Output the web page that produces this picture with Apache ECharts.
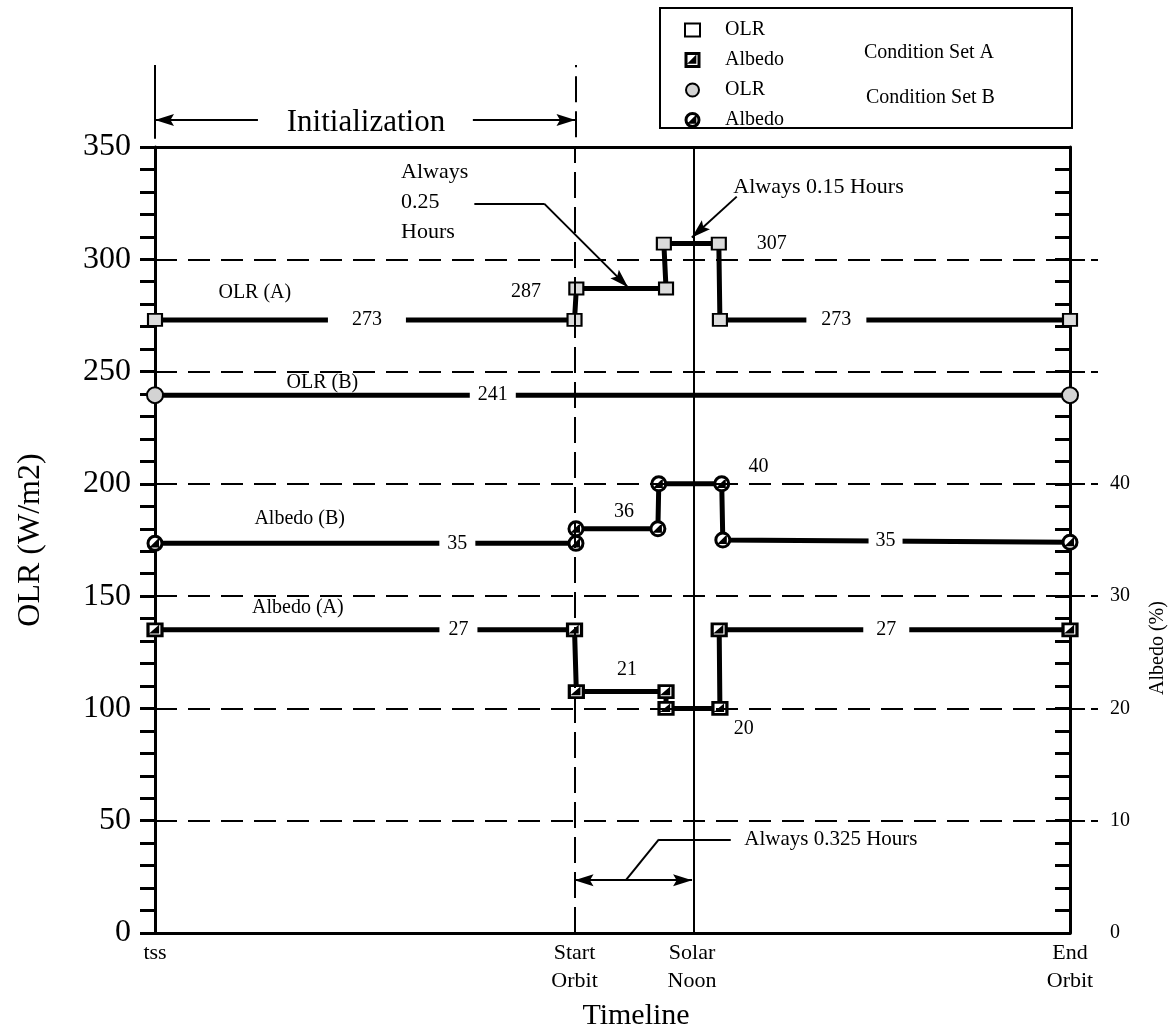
<!DOCTYPE html>
<html>
<head>
<meta charset="utf-8">
<script src="https://cdn.jsdelivr.net/npm/echarts@6/dist/echarts.min.js"></script>
<style>html,body{margin:0;padding:0;background:#fff}#c{width:1176px;height:1036px}</style>
</head>
<body>
<div id="c"></div>
<script>
// ---------------- DATA ----------------
// Timeline (hours relative to Start Orbit)
const timelinePos = [-1.16, 0, 0.325, 1.37];
const timelineLabels = ['tss', 'Start\nOrbit', 'Solar\nNoon', 'End\nOrbit'];

// OLR (W/m2), condition set A
const olrA_x = [-1.16, 0, 0.005, 0.253, 0.247, 0.399, 0.402, 1.37];
const olrA_y = [273, 273, 287, 287, 307, 307, 273, 273];
// OLR (W/m2), condition set B
const olrB_x = [-1.16, 1.37];
const olrB_y = [239.5, 239.5];
// Albedo (%), condition set A
const albA_x = [-1.16, 0, 0.005, 0.253, 0.253, 0.402, 0.400, 1.37];
const albA_y = [27, 27, 21.5, 21.5, 20, 20, 27, 27];
// Albedo (%), condition set B
const albB_x = [-1.16, 0.004, 0.004, 0.2305, 0.233, 0.407, 0.41, 1.37];
const albB_y = [34.7, 34.7, 36, 36, 40, 40, 35, 34.8];

// Axis ticks
const olrGridValues = [50, 100, 150, 200, 250, 300];

// Value annotations (x in hours, y in OLR units)
const noteText = ['OLR (A)', '273', '287', '307', '273', 'OLR (B)', '241', 'Albedo (B)', '35', '36', '40', '35', 'Albedo (A)', '27', '21', '27', '20'];
const noteX = [-0.884, -0.574, -0.134, 0.545, 0.724, -0.697, -0.226, -0.76, -0.324, 0.137, 0.509, 0.86, -0.765, -0.321, 0.145, 0.862, 0.468];
const noteY = [285.3, 273, 285.5, 307, 273, 245, 239.5, 184.3, 173.5, 187.4, 207.8, 174.5, 144.9, 135, 117.4, 135, 90.8];

// Callout texts (left-aligned)
const calloutText = ['Always\n0.25\nHours', 'Always 0.15 Hours', 'Always 0.325 Hours'];
const calloutX = [-0.481, 0.4375, 0.468];
const calloutY = [325.2, 332.3, 41.65];

// Callout leader segments [x1, y1, x2, y2, startArrow, endArrow]
const calloutSegs = [
  [-0.277, 324.8, -0.084, 324.8, 0, 0],
  [-0.084, 324.8, 0.148, 287.5, 0, 1],
  [0.4485, 327.9, 0.3244, 309.7, 0, 1],
  [0.432, 41.65, 0.2333, 41.65, 0, 0],
  [0.2333, 41.65, 0.142, 23.5, 0, 0],
  [0, 23.5, 0.325, 23.5, 1, 1]
];
// Initialization bracket (upper strip, y 0..1) [x1, y1, x2, y2, startArrow, endArrow, dashed]
const initSegs = [
  [-1.16, 0.1, -1.16, 1, 0, 0, 0],
  [0, 0.12, 0, 1, 0, 0, 1],
  [-0.876, 0.329, -1.16, 0.329, 0, 1, 0],
  [-0.283, 0.329, 0, 0.329, 0, 1, 0]
];
const initText = 'Initialization';
const initX = -0.578, initY = 0.293;

// ---------------- STYLE / OPTION ----------------
const FONT = 'Liberation Serif';
const SYM_ALB_A = 'path://M0,0L10,0L10,10L0,10Z M3.6,6.8L6.8,3.6L6.8,6.8Z';
const SYM_ALB_B = 'path://M0,5A5,5 0 1,1 10,5A5,5 0 1,1 0,5Z M3.6,6.8L6.8,3.6L6.8,6.8Z';
const ARROW = 'path://M5,0L10,16L5,13L0,16Z M5,-16L5,-16';
const gapPad = {1: 24, 4: 15, 6: 8, 8: 8, 11: 7, 13: 9, 15: 13};

const pts = (xs, ys) => xs.map((x, i) => [x, ys[i]]);
const dataLine = (name, yAxisIndex, xs, ys, symbol, size, fill, bw) => ({
  name, type: 'line', xAxisIndex: 0, yAxisIndex, data: pts(xs, ys),
  symbol, symbolSize: size, showSymbol: true, clip: false, silent: true, z: 3,
  lineStyle: {color: '#000', width: 5, cap: 'butt', join: 'miter'},
  itemStyle: {color: fill, borderColor: '#000', borderWidth: bw, opacity: 1}
});
const segLine = (s) => [
  {coord: [s[0], s[1]], symbol: s[4] ? ARROW : 'none'},
  {coord: [s[2], s[3]], symbol: s[5] ? ARROW : 'none', lineStyle: s[6] ? {type: [26, 9]} : undefined}
];
const textScatter = {type: 'scatter', symbolSize: 1, z: 6, silent: true,
  itemStyle: {color: 'rgba(0,0,0,0)', opacity: 1}};

const option = {
  animation: false,
  backgroundColor: '#fff',
  grid: [
    {left: 155, top: 147, width: 917, height: 790, containLabel: false},
    {left: 155, top: 65, width: 917, height: 82, containLabel: false}
  ],
  xAxis: [
    {
      type: 'value', gridIndex: 0, min: timelinePos[0], max: timelinePos[3],
      axisLine: {show: true, onZero: false, lineStyle: {color: '#000', width: 3}},
      axisTick: {show: false}, splitLine: {show: false},
      axisLabel: {
        customValues: timelinePos, margin: 6,
        formatter: v => { const i = timelinePos.findIndex(p => Math.abs(p - v) < 1e-6); return i >= 0 ? timelineLabels[i] : ''; },
        fontFamily: FONT, fontSize: 22, lineHeight: 28, color: '#000'
      },
      name: 'Timeline', nameLocation: 'middle', nameGap: 68,
      nameTextStyle: {fontFamily: FONT, fontSize: 30, color: '#000', padding: [0, 0, 0, 47]}
    },
    {type: 'value', gridIndex: 1, min: timelinePos[0], max: timelinePos[3], show: false},
    {
      type: 'value', gridIndex: 0, position: 'top', min: timelinePos[0], max: timelinePos[3],
      axisLine: {show: true, onZero: false, lineStyle: {color: '#000', width: 3}},
      axisTick: {show: false}, axisLabel: {show: false}, splitLine: {show: false}
    }
  ],
  yAxis: [
    {
      type: 'value', gridIndex: 0, position: 'left', min: 0, max: 350, interval: 10,
      axisLine: {show: true, onZero: false, lineStyle: {color: '#000', width: 3}},
      axisTick: {show: true, inside: false, length: 15, lineStyle: {color: '#000', width: 3}},
      splitLine: {show: false},
      axisLabel: {formatter: v => (v % 50 === 0 ? String(v) : ''), fontFamily: FONT, fontSize: 32, color: '#000', margin: 24},
      name: 'OLR (W/m2)', nameLocation: 'middle', nameRotate: 90, nameGap: 108,
      nameTextStyle: {fontFamily: FONT, fontSize: 32, color: '#000'}
    },
    {
      type: 'value', gridIndex: 0, position: 'right', min: 0, max: 70, interval: 2,
      axisLine: {show: true, onZero: false, lineStyle: {color: '#000', width: 3}},
      axisTick: {show: true, inside: true, length: 15, lineStyle: {color: '#000', width: 3}},
      splitLine: {show: false},
      axisLabel: {formatter: v => (Math.round(v) % 10 === 0 && v <= 40 ? String(Math.round(v)) : ''), fontFamily: FONT, fontSize: 20, color: '#000', margin: 40},
      name: 'Albedo (%)', nameLocation: 'middle', nameRotate: 90, nameGap: 78,
      nameTextStyle: {fontFamily: FONT, fontSize: 20, color: '#000', padding: [0, 216, 0, 0]}
    },
    {
      type: 'value', gridIndex: 0, position: 'right', min: 0, max: 350,
      axisLine: {show: false, onZero: false},
      axisTick: {show: true, inside: false, length: 28, customValues: olrGridValues, lineStyle: {color: '#000', width: 2, type: [15, 6]}},
      axisLabel: {show: false}, splitLine: {show: false}
    },
    {type: 'value', gridIndex: 1, min: 0, max: 1, show: false}
  ],
  legend: {
    orient: 'vertical', left: 679, top: 15, itemWidth: 15, itemHeight: 13, itemGap: 10,
    selectedMode: false,
    data: [
      {name: 'OLR (A)', icon: 'rect', itemStyle: {borderWidth: 2, color: '#fff'}},
      {name: 'Albedo (A)', icon: SYM_ALB_A, itemStyle: {borderWidth: 3}},
      {name: 'OLR (B)', icon: 'circle', itemStyle: {borderWidth: 2}},
      {name: 'Albedo (B)', icon: SYM_ALB_B, itemStyle: {borderWidth: 3}}
    ],
    formatter: n => n.split(' ')[0],
    textStyle: {fontFamily: FONT, fontSize: 20, color: '#000', padding: [0, 0, 0, 20]}
  },
  graphic: [
    {type: 'rect', silent: true, shape: {x: 660, y: 8, width: 412, height: 120}, style: {fill: 'none', stroke: '#000', lineWidth: 2}},
    {type: 'text', silent: true, x: 864, y: 53, style: {text: 'Condition Set A', fontFamily: FONT, fontSize: 20, fill: '#000', verticalAlign: 'middle'}},
    {type: 'text', silent: true, x: 866, y: 98, style: {text: 'Condition Set B', fontFamily: FONT, fontSize: 20, fill: '#000', verticalAlign: 'middle'}}
  ],
  series: [
    {
      name: 'grid', type: 'line', xAxisIndex: 0, yAxisIndex: 0, data: [], z: 1, silent: true,
      markLine: {
        silent: true, symbol: ['none', 'none'], label: {show: false}, animation: false,
        lineStyle: {color: '#000', width: 2, type: [22, 11]},
        data: olrGridValues.map(v => ({yAxis: v}))
          .concat([
            {xAxis: timelinePos[1], lineStyle: {type: [26, 9], width: 2}},
            {xAxis: timelinePos[2], lineStyle: {type: 'solid', width: 2}}
          ])
      }
    },
    {
      name: 'callouts', type: 'line', xAxisIndex: 0, yAxisIndex: 0, data: [], z: 4, silent: true,
      markLine: {
        silent: true, label: {show: false}, animation: false, symbolSize: [12, 38],
        lineStyle: {color: '#000', width: 2, type: 'solid'},
        data: calloutSegs.map(segLine)
      }
    },
    {
      name: 'init', type: 'line', xAxisIndex: 1, yAxisIndex: 3, data: [], z: 4, silent: true,
      markLine: {
        silent: true, label: {show: false}, animation: false, symbolSize: [12, 38],
        lineStyle: {color: '#000', width: 2, type: 'solid'},
        data: initSegs.map(segLine)
      }
    },
    dataLine('OLR (A)', 0, olrA_x, olrA_y, 'rect', [14, 12], '#dcdcdc', 2),
    dataLine('OLR (B)', 0, olrB_x, olrB_y, 'circle', 16, '#d3d3d3', 2),
    dataLine('Albedo (A)', 1, albA_x, albA_y, SYM_ALB_A, [14, 12], '#fff', 3),
    dataLine('Albedo (B)', 1, albB_x, albB_y, SYM_ALB_B, 14, '#fff', 3),
    Object.assign({}, textScatter, {
      name: 'notes', xAxisIndex: 0, yAxisIndex: 0,
      label: {show: true, position: 'inside', formatter: p => p.name, fontFamily: FONT, fontSize: 20, color: '#000'},
      data: noteText.map((t, i) => ({
        name: t, value: [noteX[i], noteY[i]],
        label: gapPad[i] ? {backgroundColor: '#fff', padding: [2, gapPad[i]]} : {}
      }))
    }),
    Object.assign({}, textScatter, {
      name: 'calloutText', xAxisIndex: 0, yAxisIndex: 0,
      label: {show: true, position: 'right', distance: 0, align: 'left', formatter: p => p.name, fontFamily: FONT, fontSize: 22, lineHeight: 30, color: '#000'},
      data: calloutText.map((t, i) => ({name: t, value: [calloutX[i], calloutY[i]], label: i === 2 ? {fontSize: 21} : {}}))
    }),
    Object.assign({}, textScatter, {
      name: 'initText', xAxisIndex: 1, yAxisIndex: 3,
      label: {show: true, position: 'inside', formatter: p => p.name, fontFamily: FONT, fontSize: 31, color: '#000'},
      data: [{name: initText, value: [initX, initY]}]
    })
  ]
};

const chart = echarts.init(document.getElementById('c'), null, {renderer: 'canvas'});
chart.setOption(option);
</script>
</body>
</html>
